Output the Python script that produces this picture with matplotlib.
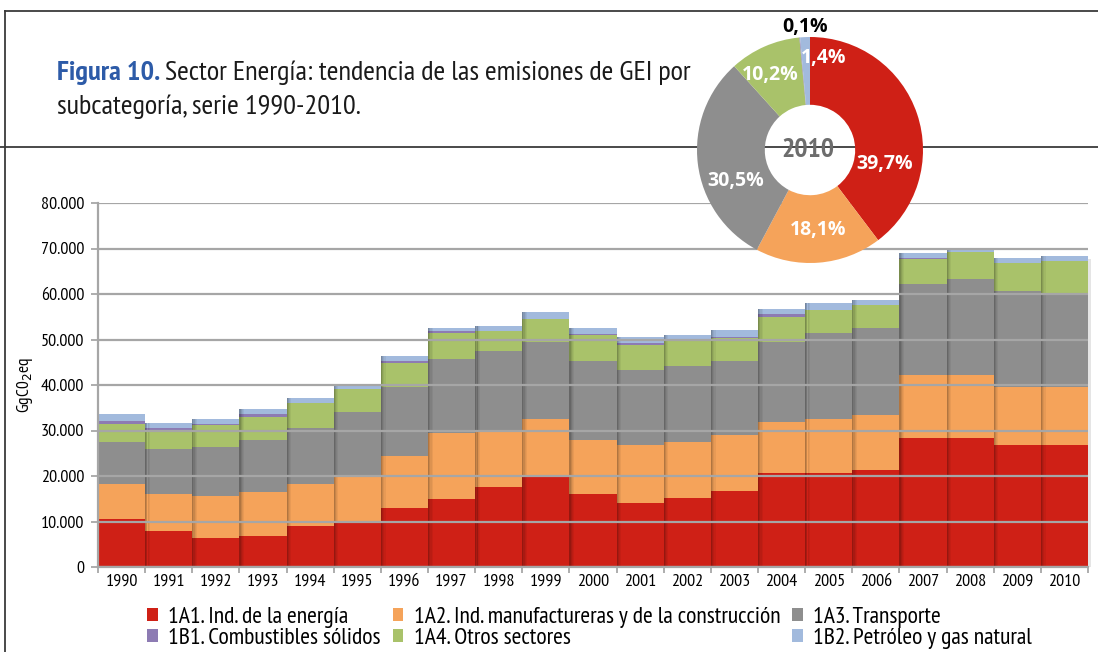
import numpy as np
import matplotlib
matplotlib.use("Agg")
import matplotlib.pyplot as plt
from matplotlib.patches import Patch
from matplotlib.lines import Line2D
from matplotlib.ticker import FuncFormatter, MultipleLocator

NARROW = ['PT Sans Narrow', 'Fira Sans Condensed', 'Archivo Narrow', 'DejaVu Sans']
plt.rcParams['font.family'] = NARROW

# ==== DATA (thousand GgCO2eq) ====
years = [str(y) for y in range(1990, 2011)]
ind_energia   = [10.5, 8.0, 6.4, 6.9, 9.1, 9.6, 13.0, 15.0, 17.6, 20.1, 16.1,
                 14.1, 15.2, 16.7, 20.7, 20.7, 21.4, 28.4, 28.4, 26.8, 26.8]
ind_manuf     = [7.8, 8.1, 9.2, 9.6, 9.2, 10.1, 11.4, 14.5, 12.3, 12.4, 11.8,
                 12.7, 12.3, 12.3, 11.2, 11.8, 12.0, 13.8, 13.8, 12.8, 12.8]
transporte    = [9.2, 9.9, 10.8, 11.4, 12.3, 14.4, 15.2, 16.2, 17.6, 16.9, 17.4,
                 16.5, 16.7, 16.3, 17.5, 18.9, 19.1, 20.0, 21.1, 21.0, 20.6]
otros         = [3.9, 4.1, 4.7, 5.1, 5.5, 5.0, 5.2, 5.7, 4.3, 5.1, 5.7,
                 5.5, 5.7, 5.0, 5.5, 5.1, 5.1, 5.4, 5.9, 6.2, 7.0]
comb_solidos  = [0.7, 0.5, 0.4, 0.6, 0.05, 0.05, 0.5, 0.4, 0.05, 0.05, 0.1,
                 0.4, 0.1, 0.3, 0.7, 0.05, 0.05, 0.3, 0.05, 0.05, 0.05]
petroleo_gas  = [1.5, 1.1, 1.0, 1.1, 1.0, 1.1, 1.1, 0.7, 1.05, 1.45, 1.4,
                 1.3, 1.0, 1.5, 1.1, 1.45, 0.95, 1.1, 0.4, 1.05, 1.05]

series = [ind_energia, ind_manuf, transporte, otros, comb_solidos, petroleo_gas]
names = ["1A1. Ind. de la energía",
         "1A2. Ind. manufactureras y de la construcción",
         "1A3. Transporte",
         "1A4. Otros sectores",
         "1B1. Combustibles sólidos",
         "1B2. Petróleo y gas natural"]
colors = ["#cf2016", "#f5a35a", "#8e8e8e", "#a9c26a", "#8d7bb3", "#a2badd"]

# pie 2010 (%), clockwise from top
pie_vals   = [39.7, 18.1, 30.5, 10.2, 0.1, 1.4]
pie_labels = ["39,7%", "18,1%", "30,5%", "10,2%", "0,1%", "1,4%"]

# ==== FIGURE ====
fig = plt.figure(figsize=(10.98, 6.52), dpi=100)

ax = fig.add_axes([98/1098, 1 - 567/652, 990/1098, 364/652])
x = np.arange(len(years))
bottom = np.zeros(len(years))
for vals, col in zip(series, colors):
    v = np.array(vals) * 1000
    ax.bar(x, v, width=1.0, bottom=bottom, color=col, linewidth=0, zorder=2)
    bottom += v

# fake shadow on the left edge of each bar
for i in range(1, len(years)):
    for k, a in enumerate([0.28, 0.18, 0.10, 0.05]):
        ax.bar(i - 0.5 + 0.025 * k + 0.0125, bottom[i], width=0.025, color="black",
               alpha=a, linewidth=0, zorder=2.5)
ax.bar(len(years) - 0.5 + 0.03, bottom[-1] - 600, width=0.06,
       color="black", alpha=0.10, linewidth=0, zorder=1.5, clip_on=False)

ax.set_xlim(-0.5, len(years) - 0.5)
ax.set_ylim(0, 80000)
ax.set_xticks(x)
ax.set_xticklabels(years, fontsize=13)
ax.set_xticks(np.arange(-0.5, len(years)), minor=True)
ax.tick_params(axis='x', which='major', length=0, pad=5)
ax.tick_params(axis='x', which='minor', length=4, color="#a0a0a0", width=1.2)
ax.yaxis.set_major_locator(MultipleLocator(10000))
ax.yaxis.set_major_formatter(FuncFormatter(lambda v, p: f"{int(v):,}".replace(",", ".")))
ax.tick_params(axis='y', length=5, color="#a0a0a0", width=1.2, labelsize=13, pad=5)
ax.grid(axis='y', color="#a6a6a6", linewidth=1.6, zorder=3)
ax.set_axisbelow(False)
for s in ["top", "right"]:
    ax.spines[s].set_visible(False)
for s in ["left", "bottom"]:
    ax.spines[s].set_color("#a6a6a6")
    ax.spines[s].set_linewidth(1.6)
    ax.spines[s].set_zorder(4)
ax.set_ylabel("GgC0$_2$eq", fontsize=12.5, labelpad=4)

# ==== DONUT ====
pax = fig.add_axes([(810 - 113)/1098, 1 - (150 + 113)/652, 226/1098, 226/652], zorder=5)
pax.pie(pie_vals, colors=colors, startangle=90, counterclock=False,
        wedgeprops=dict(width=0.6, linewidth=0))
pax.set_xlim(-1, 1)
pax.set_ylim(-1, 1)
pax.set_aspect('equal')
pax.axis('off')
label_pos = [(0.66, -0.12), (0.07, -0.71), (-0.66, -0.27), (-0.35, 0.66),
             (-0.04, 1.09), (0.12, 0.81)]
label_col = ["white", "white", "white", "white", "black", "white"]
for lab, pos, c in zip(pie_labels, label_pos, label_col):
    pax.text(pos[0], pos[1], lab, ha='center', va='center', color=c,
             fontsize=14, fontweight='bold',
             family=['Open Sans', 'DejaVu Sans'], clip_on=False)
pax.text(-0.02, 0, "2010", ha='center', va='center', color="#6d6d6d",
         fontsize=20, fontweight='bold')

# ==== FRAME LINES ====
for xs, ys in [([5/1098, 1], [1 - 11/652, 1 - 11/652]),
               ([5/1098, 5/1098], [1 - 11/652, 0]),
               ([0, 1], [1 - 147/652, 1 - 147/652])]:
    fig.add_artist(Line2D(xs, ys, color="#3a3a3a", linewidth=1.3, zorder=0.5))

# ==== TITLE ====
t1 = fig.text(57/1098, 1 - 73/652, "Figura 10.", color="#2d5ba8",
              fontsize=20.5, fontweight='bold', va='center', ha='left')
fig.canvas.draw()
bb = t1.get_window_extent()
fig.text((bb.x1 + 5)/1098, 1 - 73/652,
         "Sector Energía: tendencia de las emisiones de GEI por",
         color="#1a1a1a", fontsize=20.5, va='center', ha='left')
fig.text(57/1098, 1 - 107/652, "subcategoría, serie 1990-2010.",
         color="#1a1a1a", fontsize=20.5, va='center', ha='left')

# ==== LEGEND ====
order = [0, 4, 1, 3, 2, 5]
handles = [Patch(facecolor=colors[i], edgecolor='none') for i in order]
labels = [names[i] for i in order]
fig.legend(handles, labels, ncol=3, loc='center left',
           bbox_to_anchor=(147/1098, 1 - 628/652), frameon=False,
           fontsize=17, handlelength=0.45, handleheight=0.45,
           handletextpad=0.45, columnspacing=0.5, labelspacing=0.0,
           borderaxespad=0, borderpad=0)

fig.savefig("out.png", dpi=100)
